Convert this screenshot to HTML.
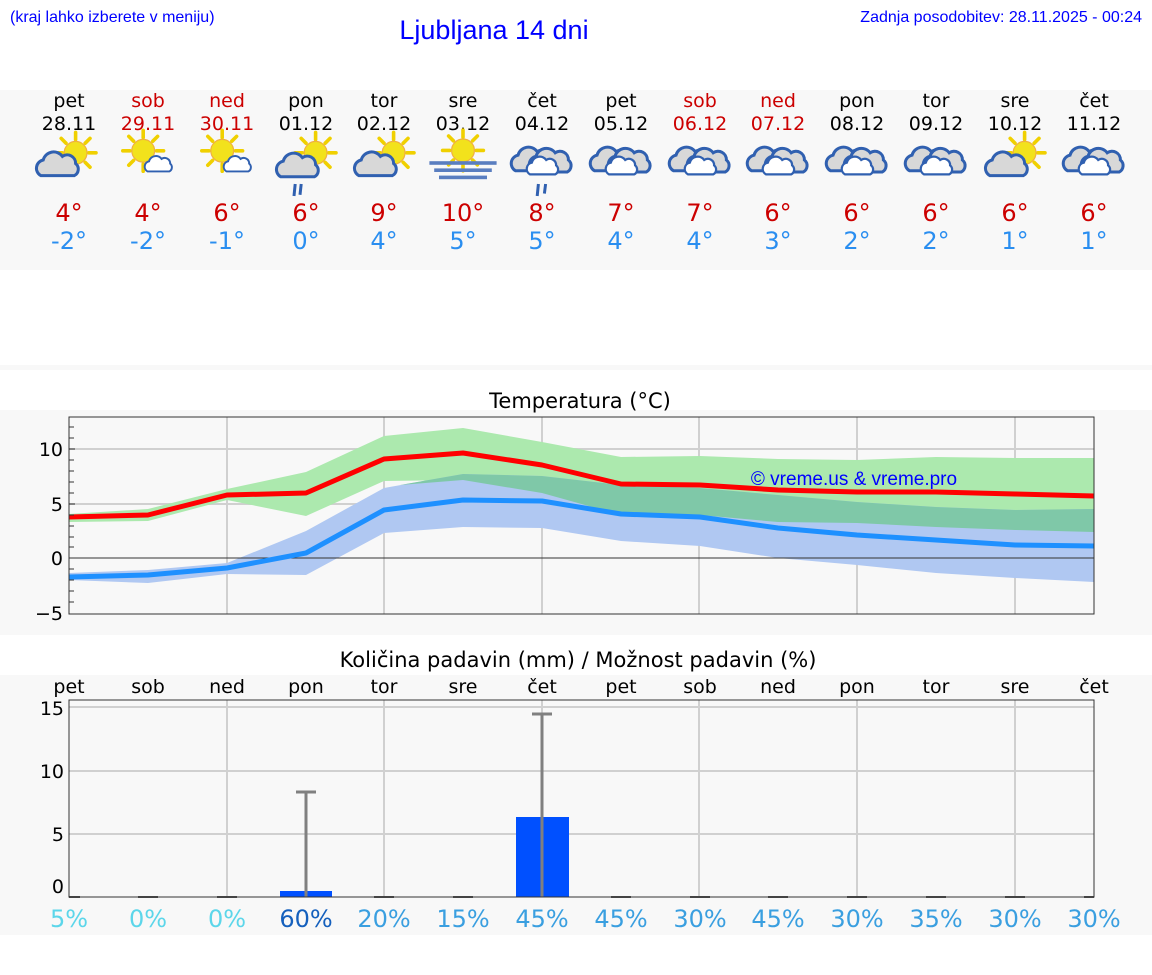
<!DOCTYPE html>
<html><head><meta charset="utf-8"><style>
html,body{margin:0;padding:0;background:#fff;}
svg{display:block;}
.d{font-family:"DejaVu Sans",sans-serif;}
.l{font-family:"Liberation Sans",sans-serif;}
</style></head><body>
<svg width="1152" height="975" viewBox="0 0 1152 975" xmlns="http://www.w3.org/2000/svg">
<defs>
<g id="sun">
 <g stroke="#f0d000" stroke-width="3" stroke-linecap="round">
  <line x1="0" y1="-11" x2="0" y2="-17"/><line x1="0" y1="11" x2="0" y2="17"/>
  <line x1="-11" y1="0" x2="-17" y2="0"/><line x1="11" y1="0" x2="17" y2="0"/>
  <line x1="8" y1="-8" x2="12" y2="-12"/><line x1="-8" y1="-8" x2="-12" y2="-12"/>
  <line x1="8" y1="8" x2="12" y2="12"/><line x1="-8" y1="8" x2="-12" y2="12"/>
 </g>
 <circle r="9.5" fill="#f2e21c" stroke="#f0b040" stroke-width="1"/>
</g>
<path id="cl" d="M-16,8 a7,7 0 0 1 2,-13 a9,9 0 0 1 16,-3 a7,7 0 0 1 11,6 a6,6 0 0 1 -1,10 z" stroke="#3060b0" stroke-width="2.5"/>
<g id="i0"><use href="#sun" x="8" y="-6"/><use href="#cl" x="-5" y="5" fill="#d8d8d8"/></g>
<g id="i1"><use href="#sun" x="-4" y="-6"/><g transform="translate(10,6) scale(0.65)"><use href="#cl" fill="#fff"/></g></g>
<g id="i3"><use href="#sun" x="8" y="-6"/><use href="#cl" x="-5" y="6" fill="#d8d8d8"/><g stroke="#3060b0" stroke-width="2.5"><line x1="-9" y1="20" x2="-10" y2="30"/><line x1="-4" y1="20" x2="-5" y2="29"/></g></g>
<g id="i5"><use href="#sun" x="0" y="-8"/><g fill="#5a7ec0"><rect x="-28" y="1" width="56" height="3"/><rect x="-24" y="7" width="48" height="3"/><rect x="-20" y="13" width="40" height="3"/></g></g>
<g id="i7"><use href="#cl" x="-6" y="1" fill="#d8d8d8"/><use href="#cl" x="9" y="2" fill="#d8d8d8"/><g transform="translate(2,6) scale(0.75)"><use href="#cl" fill="#fff"/></g></g>
<g id="i6"><use href="#i7"/><g stroke="#3060b0" stroke-width="2.5"><line x1="-3" y1="20" x2="-4" y2="30"/><line x1="3" y1="20" x2="2" y2="28"/></g></g>
</defs>

<text x="10" y="22" class="l" font-size="16" fill="#0000ff">(kraj lahko izberete v meniju)</text>
<text x="494" y="39" class="l" font-size="27" fill="#0000ff" text-anchor="middle">Ljubljana 14 dni</text>
<text x="1142" y="22" class="l" font-size="16" fill="#0000ff" text-anchor="end">Zadnja posodobitev: 28.11.2025 - 00:24</text>

<rect x="0" y="90" width="1152" height="180" fill="#f8f8f8"/>
<rect x="0" y="365" width="1152" height="5" fill="#f8f8f8"/>
<rect x="0" y="410" width="1152" height="225" fill="#f8f8f8"/>
<rect x="0" y="675" width="1152" height="260" fill="#f8f8f8"/>

<g class="d" font-size="19" text-anchor="middle">
<g fill="#000">
<text x="69" y="107">pet</text><text x="306" y="107">pon</text><text x="384" y="107">tor</text><text x="463" y="107">sre</text><text x="542" y="107">čet</text><text x="621" y="107">pet</text><text x="857" y="107">pon</text><text x="936" y="107">tor</text><text x="1015" y="107">sre</text><text x="1094" y="107">čet</text>
<text x="69" y="130">28.11</text><text x="306" y="130">01.12</text><text x="384" y="130">02.12</text><text x="463" y="130">03.12</text><text x="542" y="130">04.12</text><text x="621" y="130">05.12</text><text x="857" y="130">08.12</text><text x="936" y="130">09.12</text><text x="1015" y="130">10.12</text><text x="1094" y="130">11.12</text>
</g>
<g fill="#cc0000">
<text x="148" y="107">sob</text><text x="227" y="107">ned</text><text x="700" y="107">sob</text><text x="778" y="107">ned</text>
<text x="148" y="130">29.11</text><text x="227" y="130">30.11</text><text x="700" y="130">06.12</text><text x="778" y="130">07.12</text>
</g>
</g>

<g transform="translate(66,160) scale(1.2)"><use href="#i0"/></g>
<g transform="translate(148,158) scale(1.2)"><use href="#i1"/></g>
<g transform="translate(227,158) scale(1.2)"><use href="#i1"/></g>
<g transform="translate(306,160) scale(1.2)"><use href="#i3"/></g>
<g transform="translate(384,160) scale(1.2)"><use href="#i0"/></g>
<g transform="translate(463,160) scale(1.2)"><use href="#i5"/></g>
<g transform="translate(542,160) scale(1.2)"><use href="#i6"/></g>
<g transform="translate(621,160) scale(1.2)"><use href="#i7"/></g>
<g transform="translate(700,160) scale(1.2)"><use href="#i7"/></g>
<g transform="translate(778,160) scale(1.2)"><use href="#i7"/></g>
<g transform="translate(857,160) scale(1.2)"><use href="#i7"/></g>
<g transform="translate(936,160) scale(1.2)"><use href="#i7"/></g>
<g transform="translate(1015,160) scale(1.2)"><use href="#i0"/></g>
<g transform="translate(1094,160) scale(1.2)"><use href="#i7"/></g>

<g class="d" font-size="24" text-anchor="middle">
<g fill="#cc0000">
<text x="69" y="221">4°</text><text x="148" y="221">4°</text><text x="227" y="221">6°</text><text x="306" y="221">6°</text><text x="384" y="221">9°</text><text x="463" y="221">10°</text><text x="542" y="221">8°</text><text x="621" y="221">7°</text><text x="700" y="221">7°</text><text x="778" y="221">6°</text><text x="857" y="221">6°</text><text x="936" y="221">6°</text><text x="1015" y="221">6°</text><text x="1094" y="221">6°</text>
</g>
<g fill="#2a8ef0">
<text x="69" y="249">-2°</text><text x="148" y="249">-2°</text><text x="227" y="249">-1°</text><text x="306" y="249">0°</text><text x="384" y="249">4°</text><text x="463" y="249">5°</text><text x="542" y="249">5°</text><text x="621" y="249">4°</text><text x="700" y="249">4°</text><text x="778" y="249">3°</text><text x="857" y="249">2°</text><text x="936" y="249">2°</text><text x="1015" y="249">1°</text><text x="1094" y="249">1°</text>
</g>
</g>

<!-- temperature chart -->
<text x="580" y="408" class="d" font-size="21" text-anchor="middle">Temperatura (°C)</text>
<g stroke="#d0d0d0" stroke-width="2">
<line x1="227" y1="417" x2="227" y2="614"/><line x1="384" y1="417" x2="384" y2="614"/><line x1="542" y1="417" x2="542" y2="614"/><line x1="699" y1="417" x2="699" y2="614"/><line x1="857" y1="417" x2="857" y2="614"/><line x1="1015" y1="417" x2="1015" y2="614"/>
<line x1="69" y1="449" x2="1094" y2="449"/><line x1="69" y1="504" x2="1094" y2="504"/>
</g>
<polygon fill="#ace9ae" points="69,514 148,509 227,489 306,472 384,436 463,428 542,442 621,457 700,456 778,459 857,460 936,457 1015,458 1094,458 1094,532 1015,530 936,527 857,523 778,522 700,515 621,515 542,493 463,480 384,481 306,516 227,500 148,521 69,522"/>
<polygon fill="#b0c8f2" points="69,573 148,570 227,563 306,531 384,488 463,474 542,476 621,485 700,488 778,495 857,502 936,507 1015,510 1094,509 1094,582 1015,578 936,573 857,565 778,558 700,546 621,541 542,528 463,527 384,533 306,575 227,574 148,583 69,580"/>
<polygon fill="#7fc8a8" points="400,485 463,474 542,476 621,485 700,488 778,495 857,502 936,507 1015,510 1094,509 1094,532 1015,530 936,527 857,523 778,522 700,515 621,515 542,493 463,480"/>
<line x1="69" y1="558" x2="1094" y2="558" stroke="#333" stroke-width="1"/>
<polyline fill="none" stroke="#ff0000" stroke-width="5" stroke-linejoin="round" points="69,517 148,515 227,495 306,493 384,459 463,453 542,465 621,484 700,485 778,490 857,492 936,492 1015,494 1094,496"/>
<polyline fill="none" stroke="#1e90ff" stroke-width="5" stroke-linejoin="round" points="69,577 148,575 227,568 306,553 384,510 463,500 542,501 621,514 700,517 778,528 857,535 936,540 1015,545 1094,546"/>
<text x="854" y="485" class="l" font-size="19" fill="#0000ff" text-anchor="middle">© vreme.us &amp; vreme.pro</text>
<rect x="69" y="417" width="1025" height="197" fill="none" stroke="#333" stroke-width="1"/>
<g stroke="#333" stroke-width="1">
<line x1="69" y1="427" x2="74" y2="427"/><line x1="69" y1="438" x2="74" y2="438"/><line x1="69" y1="449" x2="75" y2="449"/><line x1="69" y1="460" x2="74" y2="460"/><line x1="69" y1="471" x2="74" y2="471"/><line x1="69" y1="482" x2="74" y2="482"/><line x1="69" y1="493" x2="74" y2="493"/><line x1="69" y1="504" x2="75" y2="504"/><line x1="69" y1="515" x2="74" y2="515"/><line x1="69" y1="526" x2="74" y2="526"/><line x1="69" y1="537" x2="74" y2="537"/><line x1="69" y1="547" x2="74" y2="547"/><line x1="69" y1="569" x2="74" y2="569"/><line x1="69" y1="580" x2="74" y2="580"/><line x1="69" y1="591" x2="74" y2="591"/><line x1="69" y1="602" x2="74" y2="602"/>
</g>
<g class="d" font-size="19" text-anchor="end">
<text x="63" y="456">10</text><text x="63" y="511">5</text><text x="63" y="565">0</text><text x="63" y="620">−5</text>
</g>

<!-- precipitation chart -->
<text x="578" y="667" class="d" font-size="21" text-anchor="middle">Količina padavin (mm) / Možnost padavin (%)</text>
<g class="d" font-size="19" text-anchor="middle" fill="#000">
<text x="69" y="693">pet</text><text x="148" y="693">sob</text><text x="227" y="693">ned</text><text x="306" y="693">pon</text><text x="384" y="693">tor</text><text x="463" y="693">sre</text><text x="542" y="693">čet</text><text x="621" y="693">pet</text><text x="700" y="693">sob</text><text x="778" y="693">ned</text><text x="857" y="693">pon</text><text x="936" y="693">tor</text><text x="1015" y="693">sre</text><text x="1094" y="693">čet</text>
</g>
<g stroke="#d0d0d0" stroke-width="2">
<line x1="227" y1="700" x2="227" y2="897"/><line x1="384" y1="700" x2="384" y2="897"/><line x1="542" y1="700" x2="542" y2="897"/><line x1="699" y1="700" x2="699" y2="897"/><line x1="857" y1="700" x2="857" y2="897"/><line x1="1015" y1="700" x2="1015" y2="897"/>
<line x1="69" y1="707" x2="1094" y2="707"/><line x1="69" y1="771" x2="1094" y2="771"/><line x1="69" y1="834" x2="1094" y2="834"/>
</g>
<rect x="280" y="891" width="52" height="6" fill="#0050ff"/>
<rect x="516" y="817" width="53" height="80" fill="#0050ff"/>
<g stroke="#808080" stroke-width="3">
<line x1="306" y1="792" x2="306" y2="897"/><line x1="296" y1="792" x2="316" y2="792"/>
<line x1="542" y1="714" x2="542" y2="897"/><line x1="532" y1="714" x2="552" y2="714"/>
</g>
<g stroke="#555" stroke-width="2">
<line x1="69" y1="897" x2="80" y2="897"/><line x1="138" y1="897" x2="158" y2="897"/><line x1="217" y1="897" x2="237" y2="897"/><line x1="374" y1="897" x2="394" y2="897"/><line x1="453" y1="897" x2="473" y2="897"/><line x1="611" y1="897" x2="631" y2="897"/><line x1="690" y1="897" x2="710" y2="897"/><line x1="768" y1="897" x2="788" y2="897"/><line x1="847" y1="897" x2="867" y2="897"/><line x1="926" y1="897" x2="946" y2="897"/><line x1="1005" y1="897" x2="1025" y2="897"/><line x1="1084" y1="897" x2="1094" y2="897"/>
</g>
<rect x="69" y="700" width="1025" height="197" fill="none" stroke="#333" stroke-width="1"/>
<g class="d" font-size="19" text-anchor="end">
<text x="64" y="715">15</text><text x="64" y="778">10</text><text x="64" y="841">5</text><text x="64" y="893">0</text>
</g>
<g class="d" font-size="24" text-anchor="middle">
<text x="69" y="927" fill="#5cd6ea">5%</text><text x="148" y="927" fill="#5cd6ea">0%</text><text x="227" y="927" fill="#5cd6ea">0%</text>
<text x="306" y="927" fill="#1560bd">60%</text>
<g fill="#3a9fe0">
<text x="384" y="927">20%</text><text x="463" y="927">15%</text><text x="542" y="927">45%</text><text x="621" y="927">45%</text><text x="700" y="927">30%</text><text x="778" y="927">45%</text><text x="857" y="927">30%</text><text x="936" y="927">35%</text><text x="1015" y="927">30%</text><text x="1094" y="927">30%</text>
</g>
</g>
</svg>
</body></html>
